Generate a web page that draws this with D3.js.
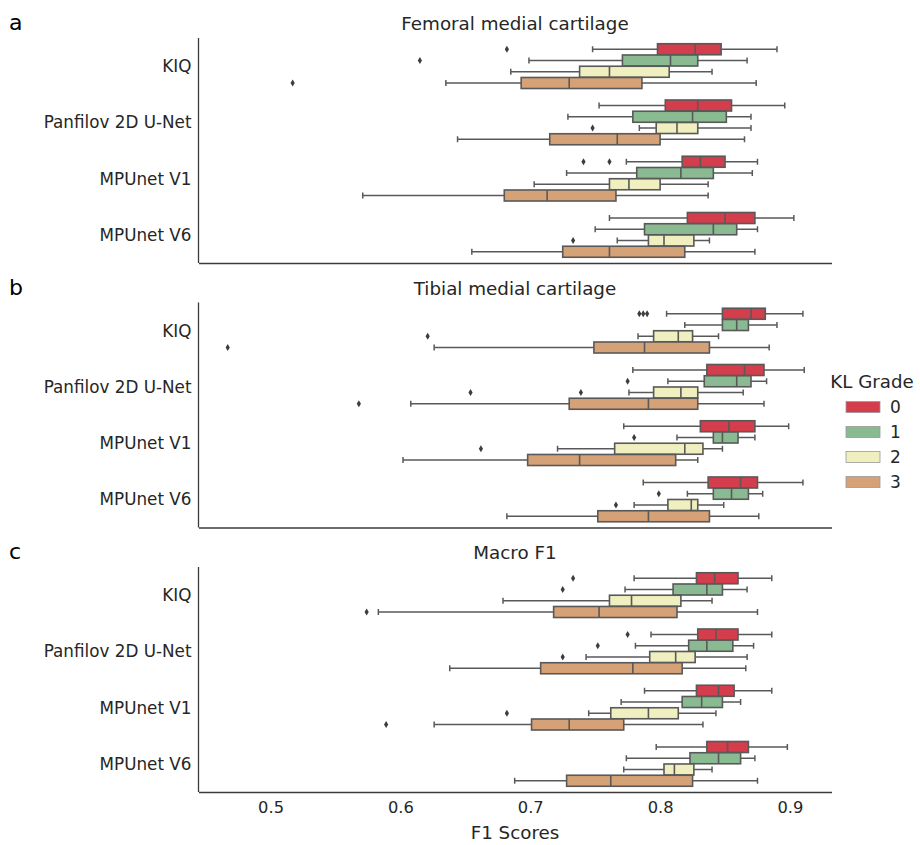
<!DOCTYPE html>
<html>
<head>
<meta charset="utf-8">
<script src="https://cdn.jsdelivr.net/npm/d3@7"></script>
<style>
  body { margin: 0; background: #fff; }
  svg text { font-family: "DejaVu Sans", sans-serif; fill: #262626; }
</style>
</head>
<body>
<svg id="chart" width="920" height="845"></svg>
<script>
// categories and hue levels
var methods = ["KIQ", "Panfilov 2D U-Net", "MPUnet V1", "MPUnet V6"];
var grades = ["0", "1", "2", "3"];
var panelTitles = ["Femoral medial cartilage", "Tibial medial cartilage", "Macro F1"];
var panelLetters = ["a", "b", "c"];
var xTicks = [0.5, 0.6, 0.7, 0.8, 0.9];

// [whiskerLow, q1, median, q3, whiskerHigh] per method, per KL grade 0..3
var femoralBoxes = [
  [[0.748, 0.798, 0.827, 0.847, 0.890], [0.699, 0.771, 0.808, 0.829, 0.867], [0.685, 0.738, 0.761, 0.807, 0.840], [0.635, 0.693, 0.730, 0.786, 0.874]],
  [[0.753, 0.804, 0.829, 0.855, 0.896], [0.729, 0.779, 0.825, 0.851, 0.870], [0.784, 0.797, 0.813, 0.829, 0.870], [0.644, 0.715, 0.767, 0.800, 0.865]],
  [[0.774, 0.817, 0.831, 0.850, 0.875], [0.728, 0.782, 0.816, 0.841, 0.871], [0.703, 0.761, 0.776, 0.800, 0.837], [0.571, 0.680, 0.713, 0.766, 0.837]],
  [[0.761, 0.821, 0.850, 0.873, 0.903], [0.750, 0.788, 0.841, 0.859, 0.875], [0.767, 0.791, 0.803, 0.826, 0.838], [0.655, 0.725, 0.761, 0.819, 0.873]]
];
var femoralOutliers = [
  [[0.682], [0.615], [], [0.517]],
  [[], [], [0.748], []],
  [[0.741, 0.761], [], [], []],
  [[], [], [0.733], []]
];

var tibialBoxes = [
  [[0.805, 0.848, 0.870, 0.881, 0.910], [0.819, 0.848, 0.859, 0.868, 0.890], [0.783, 0.795, 0.814, 0.825, 0.845], [0.626, 0.749, 0.788, 0.838, 0.884]],
  [[0.779, 0.836, 0.865, 0.880, 0.911], [0.806, 0.834, 0.859, 0.870, 0.882], [0.776, 0.795, 0.816, 0.829, 0.864], [0.608, 0.730, 0.791, 0.829, 0.880]],
  [[0.772, 0.831, 0.853, 0.873, 0.899], [0.813, 0.841, 0.848, 0.860, 0.873], [0.721, 0.765, 0.819, 0.833, 0.848], [0.602, 0.698, 0.738, 0.812, 0.829]],
  [[0.787, 0.837, 0.862, 0.875, 0.910], [0.821, 0.841, 0.855, 0.868, 0.879], [0.780, 0.806, 0.824, 0.829, 0.849], [0.682, 0.752, 0.791, 0.838, 0.876]]
];
var tibialOutliers = [
  [[0.784, 0.787, 0.790], [], [0.621], [0.467]],
  [[], [0.775], [0.654, 0.739], [0.568]],
  [[], [0.780], [0.662], []],
  [[], [0.799], [0.766], []]
];

var macroBoxes = [
  [[0.780, 0.828, 0.842, 0.860, 0.886], [0.773, 0.810, 0.836, 0.848, 0.867], [0.679, 0.761, 0.778, 0.816, 0.840], [0.583, 0.718, 0.753, 0.813, 0.875]],
  [[0.793, 0.829, 0.843, 0.860, 0.886], [0.781, 0.822, 0.836, 0.856, 0.872], [0.743, 0.792, 0.812, 0.827, 0.867], [0.638, 0.708, 0.779, 0.817, 0.866]],
  [[0.788, 0.828, 0.845, 0.857, 0.886], [0.770, 0.817, 0.832, 0.848, 0.862], [0.745, 0.762, 0.791, 0.814, 0.843], [0.626, 0.701, 0.730, 0.772, 0.833]],
  [[0.797, 0.836, 0.852, 0.868, 0.898], [0.774, 0.823, 0.845, 0.862, 0.873], [0.772, 0.803, 0.811, 0.826, 0.840], [0.688, 0.728, 0.762, 0.825, 0.875]]
];
var macroOutliers = [
  [[0.733], [0.725], [], [0.574]],
  [[0.775], [0.752], [0.725], []],
  [[], [], [0.682], [0.589]],
  [[], [], [], []]
];

var panelBoxes = [femoralBoxes, tibialBoxes, macroBoxes];
var panelOutliers = [femoralOutliers, tibialOutliers, macroOutliers];

var gradeColors = ["#d43d4b", "#89ba92", "#efefbf", "#d5a177"];
var lineColor = "#595959";

// layout
var plotLeft = 198.5, plotRight = 831.5;
var panelTops = [38, 302.5, 567];
var panelHeight = 225;

var svg = d3.select("#chart");
svg.append("rect").attr("width", 920).attr("height", 845).attr("fill", "#fff");

var x = d3.scaleLinear().domain([0.4445, 0.932]).range([plotLeft, plotRight]);
var color = d3.scaleOrdinal().domain(grades).range(gradeColors);

var diamond = "M0,-3.6L2.1,0L0,3.6L-2.1,0Z";

panelTitles.forEach(function (title, p) {
  var top = panelTops[p];
  var g = svg.append("g");

  var y = d3.scaleBand().domain(methods).range([top, top + panelHeight]);
  var inner = d3.scaleBand().domain(grades)
    .range([y.bandwidth() * 0.1, y.bandwidth() * 0.9]);
  var bh = inner.bandwidth() * 0.98;

  // title + panel letter
  g.append("text")
    .attr("x", (plotLeft + plotRight) / 2)
    .attr("y", top - 8)
    .attr("text-anchor", "middle")
    .attr("font-size", 18.3)
    .text(title);
  g.append("text")
    .attr("x", 9)
    .attr("y", top - 8)
    .attr("font-size", 22)
    .style("fill", "#000")
    .text(panelLetters[p]);

  // category labels
  g.selectAll(".cat")
    .data(methods)
    .enter().append("text")
    .attr("class", "cat")
    .attr("x", plotLeft - 7)
    .attr("y", function (d) { return y(d) + y.bandwidth() / 2; })
    .attr("dy", "0.35em")
    .attr("text-anchor", "end")
    .attr("font-size", 16.8)
    .text(function (d) { return d; });

  // boxes
  methods.forEach(function (m, mi) {
    grades.forEach(function (gr, gi) {
      var s = panelBoxes[p][mi][gi];
      var cy = y(m) + inner(gr) + inner.bandwidth() / 2;
      var bg = g.append("g");

      // whiskers
      bg.append("line")
        .attr("x1", x(s[0])).attr("x2", x(s[1]))
        .attr("y1", cy).attr("y2", cy)
        .attr("stroke", lineColor).attr("stroke-width", 1.5);
      bg.append("line")
        .attr("x1", x(s[3])).attr("x2", x(s[4]))
        .attr("y1", cy).attr("y2", cy)
        .attr("stroke", lineColor).attr("stroke-width", 1.5);
      // caps
      [s[0], s[4]].forEach(function (v) {
        bg.append("line")
          .attr("x1", x(v)).attr("x2", x(v))
          .attr("y1", cy - bh * 0.27).attr("y2", cy + bh * 0.27)
          .attr("stroke", lineColor).attr("stroke-width", 1.5);
      });
      // box
      bg.append("rect")
        .attr("x", x(s[1]))
        .attr("y", cy - bh / 2)
        .attr("width", x(s[3]) - x(s[1]))
        .attr("height", bh)
        .attr("fill", color(gr))
        .attr("stroke", lineColor).attr("stroke-width", 1.6);
      // median
      bg.append("line")
        .attr("x1", x(s[2])).attr("x2", x(s[2]))
        .attr("y1", cy - bh / 2).attr("y2", cy + bh / 2)
        .attr("stroke", lineColor).attr("stroke-width", 1.6);
      // fliers
      bg.selectAll(".flier")
        .data(panelOutliers[p][mi][gi])
        .enter().append("path")
        .attr("class", "flier")
        .attr("d", diamond)
        .attr("transform", function (d) { return "translate(" + x(d) + "," + cy + ")"; })
        .attr("fill", "#3d3d3d");
    });
  });

  // spines
  g.append("line")
    .attr("x1", plotLeft).attr("x2", plotLeft)
    .attr("y1", top).attr("y2", top + panelHeight)
    .attr("stroke", "#3a3a3a").attr("stroke-width", 1.3);
  var axis = d3.axisBottom(x)
    .tickValues(p === 2 ? xTicks : [])
    .tickFormat(d3.format(".1f"))
    .tickSize(0).tickSizeOuter(0).tickPadding(9.5);
  var ax = g.append("g")
    .attr("transform", "translate(0," + (top + panelHeight) + ")")
    .call(axis);
  ax.select(".domain").attr("stroke", "#3a3a3a").attr("stroke-width", 1.3);
  ax.selectAll("text")
    .attr("font-size", 16.3)
    .attr("font-family", "DejaVu Sans, sans-serif")
    .style("fill", "#262626");
});

// x label
svg.append("text")
  .attr("x", (plotLeft + plotRight) / 2)
  .attr("y", 839)
  .attr("text-anchor", "middle")
  .attr("font-size", 18.3)
  .text("F1 Scores");

// legend
var legend = svg.append("g");
legend.append("text")
  .attr("x", 872)
  .attr("y", 388)
  .attr("text-anchor", "middle")
  .attr("font-size", 18.2)
  .text("KL Grade");
var legendY = d3.scalePoint().domain(grades).range([407, 482]);
grades.forEach(function (gr) {
  legend.append("rect")
    .attr("x", 846).attr("y", legendY(gr) - 5.5)
    .attr("width", 34).attr("height", 11)
    .attr("fill", color(gr))
    .attr("stroke", "#9a9a9a").attr("stroke-width", 0.8);
  legend.append("text")
    .attr("x", 890).attr("y", legendY(gr))
    .attr("dy", "0.36em")
    .attr("font-size", 17)
    .text(gr);
});
</script>
</body>
</html>
